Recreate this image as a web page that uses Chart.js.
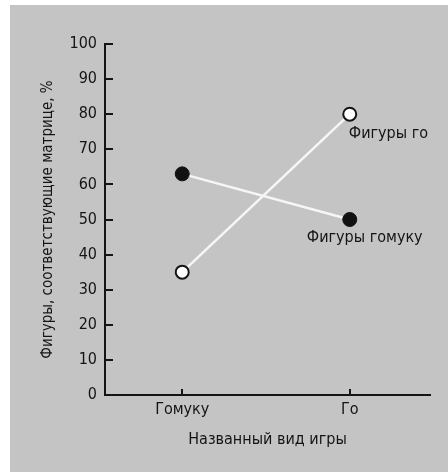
<!DOCTYPE html>
<html>
<head>
<meta charset="utf-8">
<script src="https://cdn.jsdelivr.net/npm/chart.js@4.4.1/dist/chart.umd.min.js"></script>
<style>
  html, body { margin: 0; padding: 0; background: #ffffff; }
  #wrap { position: relative; width: 448px; height: 472px; overflow: hidden; }
  #bg { position: absolute; left: 10px; top: 5px; right: 0; bottom: 0; background: #c4c4c4; }
  #c { position: absolute; left: 0; top: 0; }
</style>
</head>
<body>
<div id="wrap">
  <div id="bg"></div>
  <canvas id="c" width="448" height="472"></canvas>
</div>
<script>
// ---- data ----
const categories = ['Гомуку', 'Го'];
const seriesNames = ['Фигуры гомуку', 'Фигуры го'];
const gomokuFigures = [63, 50];
const goFigures = [35, 80];
const yTicks = [0, 10, 20, 30, 40, 50, 60, 70, 80, 90, 100];
const yTitle = 'Фигуры, соответствующие матрице, %';
const xTitle = 'Названный вид игры';

const FONT = '"Liberation Sans Narrow", "DejaVu Sans Condensed", "Roboto Condensed", sans-serif';
const INK = '#141414';

const toPoints = vals => vals.map((v, i) => ({ x: i, y: v }));

// inward tick marks drawn from the library's scales
const innerTicks = {
  id: 'innerTicks',
  afterDraw(chart) {
    const { ctx, scales: { x, y }, chartArea } = chart;
    ctx.save();
    ctx.strokeStyle = INK;
    ctx.lineWidth = 2;
    y.ticks.forEach(t => {
      if (t.value === 0) return;
      const py = Math.round(y.getPixelForValue(t.value));
      ctx.beginPath();
      ctx.moveTo(chartArea.left, py);
      ctx.lineTo(chartArea.left + 8, py);
      ctx.stroke();
    });
    x.ticks.forEach(t => {
      const px = Math.round(x.getPixelForValue(t.value));
      ctx.beginPath();
      ctx.moveTo(px, chartArea.bottom);
      ctx.lineTo(px, chartArea.bottom - 6);
      ctx.stroke();
    });
    ctx.restore();
  }
};

// series labels next to the Го points
const seriesLabels = {
  id: 'seriesLabels',
  afterDatasetsDraw(chart) {
    const { ctx } = chart;
    ctx.save();
    ctx.font = '16px ' + FONT;
    ctx.fillStyle = INK;
    ctx.textBaseline = 'middle';
    ctx.textAlign = 'left';
    const offs = [[-43, 18], [-1, 20]];
    chart.data.datasets.forEach((ds, i) => {
      const pt = chart.getDatasetMeta(i).data[1];
      ctx.fillText(ds.label, pt.x + offs[i][0], pt.y + offs[i][1]);
    });
    ctx.restore();
  }
};

new Chart(document.getElementById('c'), {
  type: 'line',
  data: {
    datasets: [
      {
        label: seriesNames[0],
        data: toPoints(gomokuFigures),
        borderColor: '#f6f6f6',
        borderWidth: 2.5,
        pointRadius: 7,
        pointBackgroundColor: '#111111',
        pointBorderColor: '#111111',
        pointBorderWidth: 1,
        tension: 0
      },
      {
        label: seriesNames[1],
        data: toPoints(goFigures),
        borderColor: '#f6f6f6',
        borderWidth: 2.5,
        pointRadius: 6.5,
        pointBackgroundColor: '#ffffff',
        pointBorderColor: '#151515',
        pointBorderWidth: 2,
        tension: 0
      }
    ]
  },
  options: {
    responsive: false,
    animation: false,
    devicePixelRatio: 1,
    layout: { padding: { top: 44, right: 18, bottom: 0, left: 0 } },
    plugins: { legend: { display: false }, tooltip: { enabled: false } },
    scales: {
      x: {
        type: 'linear',
        min: -0.461,
        max: 1.479,
        afterBuildTicks: s => { s.ticks = categories.map((c, i) => ({ value: i })); },
        afterFit: s => { s.height = 77; },
        ticks: {
          callback: v => categories[v],
          font: { family: FONT, size: 16 },
          color: INK,
          padding: 5,
          maxRotation: 0
        },
        grid: { display: false, drawTicks: false },
        border: { display: true, color: INK, width: 2 },
        title: {
          display: true,
          text: xTitle,
          font: { family: FONT, size: 16 },
          color: INK,
          padding: { top: 4, bottom: 23 }
        }
      },
      y: {
        min: 0,
        max: 100,
        afterBuildTicks: s => { s.ticks = yTicks.map(v => ({ value: v })); },
        afterFit: s => { s.width = 105; },
        ticks: {
          font: { family: FONT, size: 16 },
          color: INK,
          padding: 8
        },
        grid: { display: false, drawTicks: false },
        border: { display: true, color: INK, width: 2 },
        title: {
          display: true,
          text: yTitle,
          font: { family: FONT, size: 15 },
          color: INK,
          padding: { top: 39, bottom: 4 }
        }
      }
    }
  },
  plugins: [innerTicks, seriesLabels]
});
</script>
</body>
</html>
